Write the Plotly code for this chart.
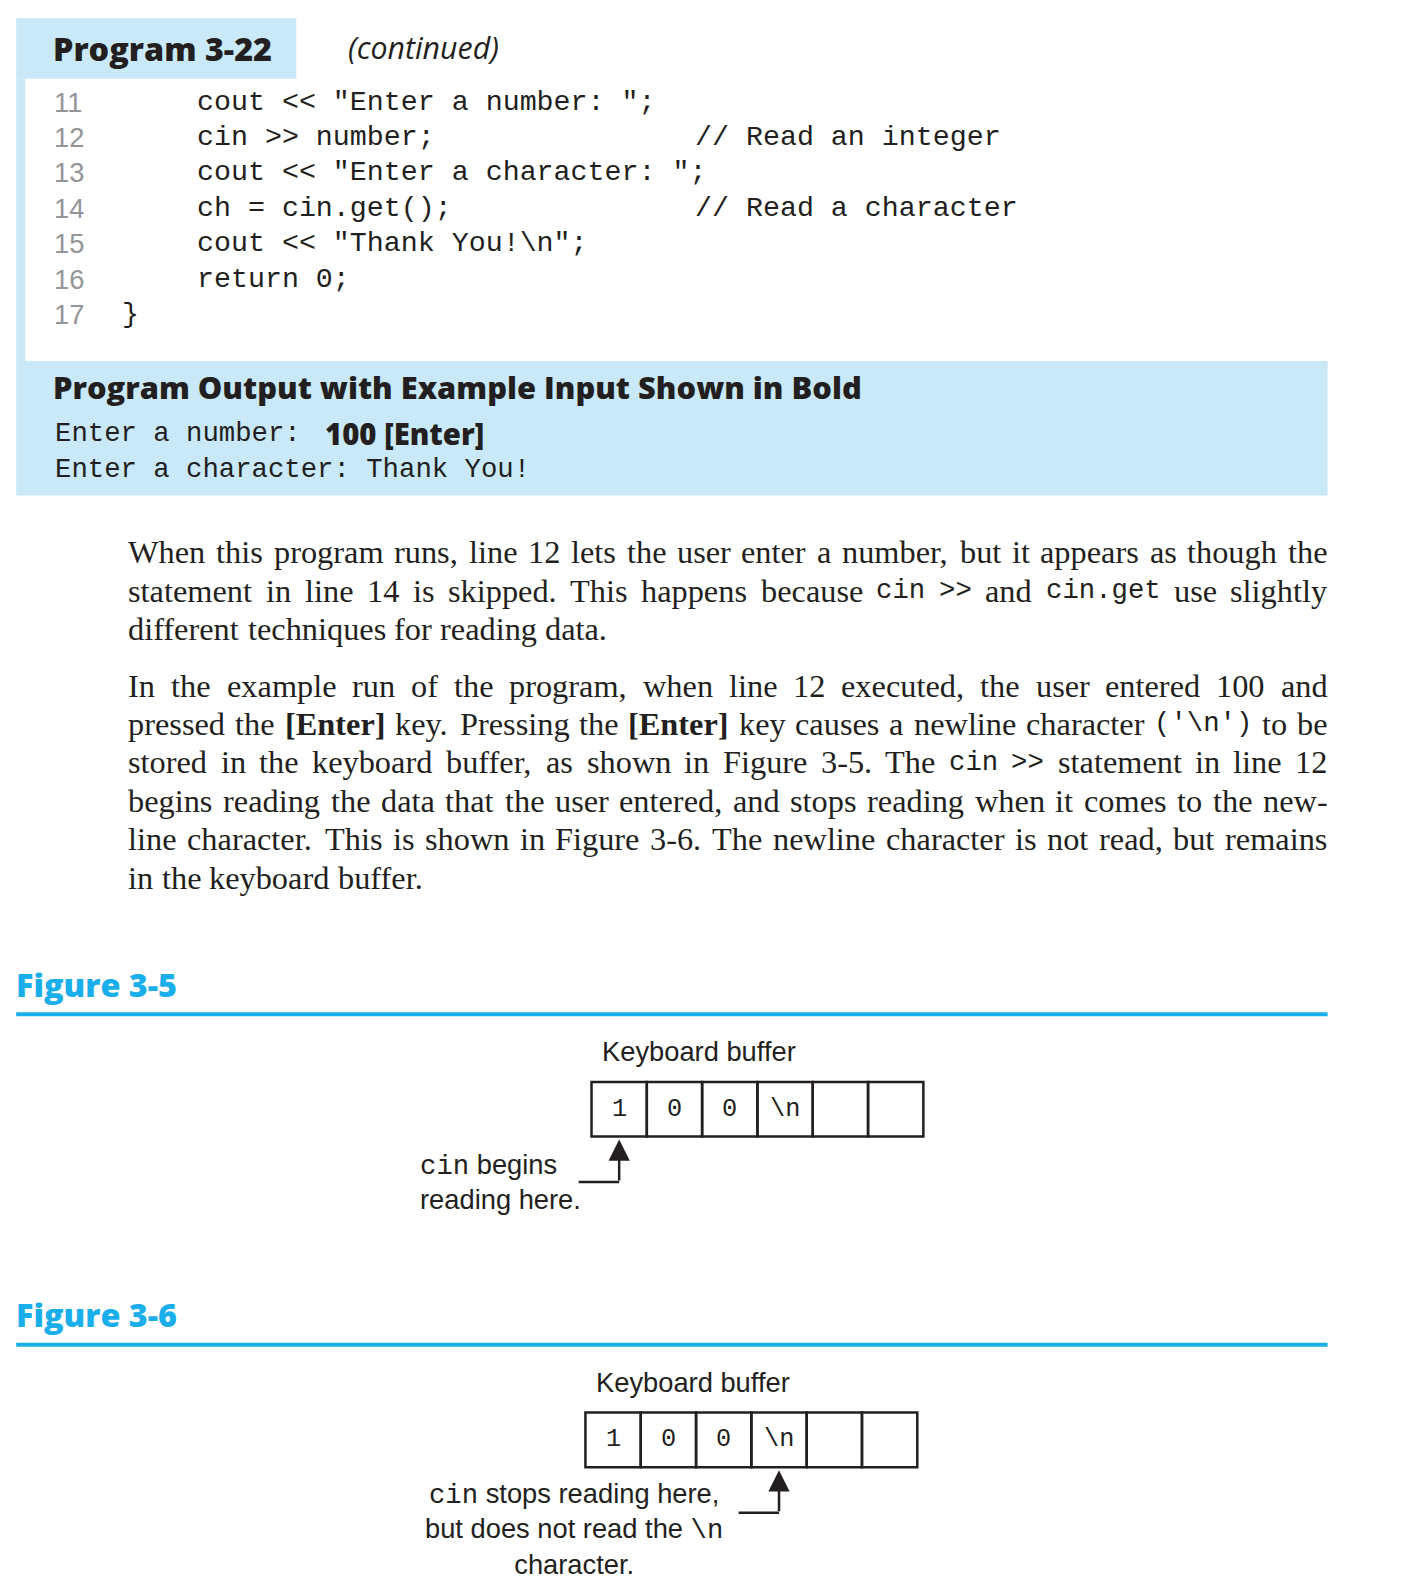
import plotly.graph_objects as go

# page size; the captured picture comes out about 1.1% smaller than the page
# and offset by the 8px body margin, so the axes are set to compensate
W, H = 1422, 1584
PAD = 8
S = 0.989
FS = 1 / S

INK = "#231f20"
BLUE = "#1aaeea"
PALE = "#c9e9f9"
GREY = "#939598"

# --- data -------------------------------------------------------------
code_nums = ["11", "12", "13", "14", "15", "16", "17"]
code_text = ['cout << "Enter a number: ";', 'cin >> number;',
             'cout << "Enter a character: ";', 'ch = cin.get();',
             'cout << "Thank You!\\n";', 'return 0;', '}']
code_indent = [1, 1, 1, 1, 1, 1, 0]
code_comments = ["", "// Read an integer", "", "// Read a character", "", "", ""]

output_prompts = ["Enter a number: ", "Enter a character: Thank You!"]
output_inputs = ["100 [Enter]", ""]

# `x` = code font, *x* = bold
para1 = [
    "When this program runs, line 12 lets the user enter a number, but it appears as though the",
    "statement in line 14 is skipped. This happens because `cin` `>>` and `cin.get` use slightly",
    "different techniques for reading data.",
]
para2 = [
    "In the example run of the program, when line 12 executed, the user entered 100 and",
    "pressed the *[Enter]* key. Pressing the *[Enter]* key causes a newline character `('\\n')` to be",
    "stored in the keyboard buffer, as shown in Figure 3-5. The `cin` `>>` statement in line 12",
    "begins reading the data that the user entered, and stops reading when it comes to the new-",
    "line character. This is shown in Figure 3-6. The newline character is not read, but remains",
    "in the keyboard buffer.",
]

buffer_cells = ["1", "0", "0", "\\n", "", ""]
fig_titles = ["Figure 3-5", "Figure 3-6"]
fig_notes = [
    "<span style='font-family:Liberation Mono'>cin</span> begins<br>reading here.",
    "<span style='font-family:Liberation Mono'>cin</span> stops reading here,<br>"
    "but does not read the <span style='font-family:Liberation Mono'>\\n</span><br>character.",
]
arrow_cell = [0, 3]

# --- Times metrics (Liberation Serif is metric compatible) ------------
TIMES = dict(zip("abcdefghijklmnopqrstuvwxyz",
                 [444, 500, 444, 500, 444, 333, 500, 500, 278, 278, 500, 278, 778,
                  500, 500, 500, 500, 333, 389, 278, 500, 500, 722, 500, 500, 444]))
TIMES.update(zip("ABCDEFGHIJKLMNOPQRSTUVWXYZ",
                 [722, 667, 667, 722, 611, 556, 722, 722, 333, 389, 722, 611, 889,
                  722, 722, 556, 722, 667, 556, 611, 722, 722, 944, 722, 722, 611]))
TIMES.update({c: 500 for c in "0123456789"})
TIMES.update({" ": 250, ".": 250, ",": 250, "-": 333, "(": 333, ")": 333,
              "[": 333, "]": 333, "'": 180, ":": 278, ";": 278})
TIMES_B = dict(TIMES)
TIMES_B.update({"E": 667, "n": 556, "t": 333, "r": 444, "e": 444})

SERIF_PX = 32
MONO_PX = 27
TEXT_L, TEXT_R = 125, 1311


def esc(s):
    return s.replace("&", "&amp;").replace("<", "&lt;").replace(">", "&gt;")


def tokens(line):
    out = []
    for w in line.split(" "):
        if w.startswith("`"):
            out.append(("mono", w.strip("`")))
        elif w.startswith("*"):
            out.append(("bold", w.strip("*")))
        else:
            out.append(("serif", w))
    return out


def width(tok):
    kind, s = tok
    if kind == "mono":
        return 0.6 * MONO_PX * len(s)
    tab = TIMES_B if kind == "bold" else TIMES
    return sum(tab.get(c, 500) for c in s) / 1000 * SERIF_PX


fig = go.Figure()
shapes = []
ann = []


def text(x, y, s, size, family, color=INK, anchor="left", weight="normal", **kw):
    ann.append(dict(x=x, y=y, text=s, showarrow=False, xref="x", yref="y",
                    xanchor=anchor, yanchor="middle",
                    font=dict(size=size * FS, family=family, color=color, weight=weight), **kw))


# --- program listing box ----------------------------------------------
shapes.append(dict(type="rect", x0=16, x1=293, y0=18, y1=78, fillcolor=PALE, line_width=0))
shapes.append(dict(type="rect", x0=16, x1=25, y0=78, y1=357, fillcolor=PALE, line_width=0))
shapes.append(dict(type="rect", x0=16, x1=1313, y0=357, y1=490, fillcolor=PALE, line_width=0))

text(50, 47, "Program 3-22", 32, "Open Sans", weight=800)
text(342, 47, "<i>(continued)</i>", 30, "Open Sans")

for i, num in enumerate(code_nums):
    y = 101 + 35 * i
    text(51, y, num, 27, "Liberation Sans", color=GREY)
    x = 193 if code_indent[i] else 119
    text(x, y, esc(code_text[i]), 28, "Liberation Mono")
    if code_comments[i]:
        text(685, y, esc(code_comments[i]), 28, "Liberation Mono")

text(50, 383, "Program Output with Example Input Shown in Bold", 30.5, "Open Sans", weight=800)
for i, p in enumerate(output_prompts):
    y = 429 + 35 * i
    text(52, y, esc(p), 27, "Liberation Mono")
    if output_inputs[i]:
        text(319, y, esc(output_inputs[i]), 29, "Open Sans", weight=800)

# --- justified paragraphs ---------------------------------------------
fam = {"serif": ("Liberation Serif", SERIF_PX, "normal"),
       "bold": ("Liberation Serif", SERIF_PX, "bold"),
       "mono": ("Liberation Mono", MONO_PX, "normal")}

for para, y0 in ((para1, 546), (para2, 678)):
    for j, line in enumerate(para):
        toks = tokens(line)
        ws = [width(t) for t in toks]
        last = j == len(para) - 1
        gap = 0.25 * SERIF_PX if last else (TEXT_R - TEXT_L - sum(ws)) / (len(toks) - 1)
        x = TEXT_L
        for t, w in zip(toks, ws):
            f, sz, wt = fam[t[0]]
            text(x, y0 + 38 * j, esc(t[1]), sz, f, weight=wt)
            x += w + gap

# --- figures ------------------------------------------------------------
CELL_W, CELL_H = 54.7, 54
fig_top = [940, 1267]
box_x = [585, 579]
note_pos = [(413, 1169, "left", "left"), (568, 1512, "center", "center")]

for k, title in enumerate(fig_titles):
    t0 = fig_top[k]
    text(14, t0 + 33, title, 32, "Open Sans", color=BLUE, weight=800)
    shapes.append(dict(type="line", x0=16, x1=1313, y0=t0 + 63, y1=t0 + 63,
                       line=dict(color=BLUE, width=4)))
    bx, by = box_x[k], t0 + 130
    text(bx + 8, t0 + 100, "Keyboard buffer", 27, "Liberation Sans")
    for c, val in enumerate(buffer_cells):
        shapes.append(dict(type="rect", x0=bx + c * CELL_W, x1=bx + (c + 1) * CELL_W,
                           y0=by, y1=by + CELL_H, line=dict(color=INK, width=2.5)))
        if val:
            text(bx + (c + 0.5) * CELL_W, by + CELL_H / 2, val, 25, "Liberation Mono",
                 anchor="center")
    # arrow pointing up at a cell
    ax = bx + (arrow_cell[k] + 0.5) * CELL_W
    ybend = by + CELL_H + 45
    shapes.append(dict(type="line", x0=ax - 40, x1=ax, y0=ybend, y1=ybend,
                       line=dict(color=INK, width=2.5)))
    ann.append(dict(x=ax, y=by + CELL_H + 3, ax=ax, ay=ybend, xref="x", yref="y",
                    axref="x", ayref="y", text="", showarrow=True, arrowhead=2,
                    arrowsize=1.7, arrowwidth=2.5, arrowcolor=INK))
    nx, ny, anc, al = note_pos[k]
    text(nx, ny, fig_notes[k], 27, "Liberation Sans", anchor=anc, align=al)

fig.update_layout(
    width=W, height=H, margin=dict(l=0, r=0, t=0, b=0),
    paper_bgcolor="white", plot_bgcolor="white",
    xaxis=dict(range=[PAD * S, PAD * S + W * S], visible=False, fixedrange=True),
    yaxis=dict(range=[PAD * S + H * S, PAD * S], visible=False, fixedrange=True),
    shapes=shapes, annotations=ann, showlegend=False,
)
fig.write_html("out.html")
